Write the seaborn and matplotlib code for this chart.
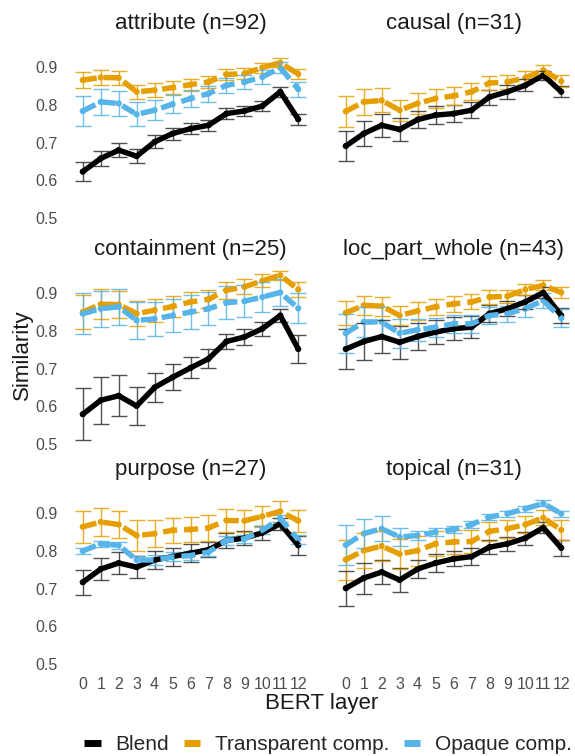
import matplotlib
matplotlib.use("Agg")
import matplotlib.pyplot as plt
from matplotlib.lines import Line2D
import numpy as np
import pandas as pd
import seaborn as sns

# ---------------- data ----------------
layers = list(range(13))
facets = ["attribute (n=92)", "causal (n=31)", "containment (n=25)",
          "loc_part_whole (n=43)", "purpose (n=27)", "topical (n=31)"]
series = ["Blend", "Transparent comp.", "Opaque comp."]

attribute_blend = [0.623, 0.658, 0.680, 0.664, 0.702, 0.724, 0.737, 0.746, 0.777, 0.784, 0.797, 0.835, 0.762]
attribute_blend_err = [0.025, 0.021, 0.019, 0.018, 0.017, 0.016, 0.015, 0.015, 0.014, 0.013, 0.013, 0.013, 0.015]
attribute_transp = [0.866, 0.873, 0.872, 0.835, 0.839, 0.846, 0.854, 0.861, 0.881, 0.883, 0.899, 0.912, 0.882]
attribute_transp_err = [0.022, 0.020, 0.019, 0.019, 0.018, 0.017, 0.016, 0.016, 0.015, 0.014, 0.013, 0.012, 0.014]
attribute_opaque = [0.784, 0.808, 0.804, 0.775, 0.786, 0.802, 0.817, 0.830, 0.852, 0.861, 0.874, 0.899, 0.842]
attribute_opaque_err = [0.041, 0.035, 0.033, 0.032, 0.027, 0.024, 0.022, 0.021, 0.020, 0.019, 0.018, 0.015, 0.020]

causal_blend = [0.691, 0.724, 0.746, 0.735, 0.761, 0.773, 0.777, 0.786, 0.821, 0.835, 0.852, 0.879, 0.835]
causal_blend_err = [0.039, 0.033, 0.031, 0.030, 0.023, 0.023, 0.022, 0.021, 0.020, 0.018, 0.016, 0.012, 0.015]
causal_transp = [0.783, 0.808, 0.812, 0.786, 0.804, 0.817, 0.824, 0.835, 0.858, 0.861, 0.872, 0.892, 0.863]
causal_transp_err = [0.042, 0.035, 0.032, 0.028, 0.027, 0.025, 0.024, 0.022, 0.019, 0.019, 0.017, 0.015, 0.016]

containment_blend = [0.579, 0.616, 0.628, 0.601, 0.650, 0.677, 0.702, 0.726, 0.772, 0.784, 0.806, 0.841, 0.752]
containment_blend_err = [0.069, 0.062, 0.055, 0.050, 0.038, 0.034, 0.028, 0.025, 0.021, 0.021, 0.019, 0.018, 0.038]
containment_transp = [0.850, 0.871, 0.870, 0.846, 0.855, 0.865, 0.877, 0.884, 0.908, 0.917, 0.933, 0.948, 0.910]
containment_transp_err = [0.046, 0.040, 0.036, 0.033, 0.030, 0.028, 0.026, 0.024, 0.022, 0.020, 0.017, 0.012, 0.020]
containment_opaque = [0.846, 0.859, 0.864, 0.828, 0.832, 0.841, 0.850, 0.859, 0.875, 0.879, 0.890, 0.902, 0.860]
containment_opaque_err = [0.054, 0.048, 0.047, 0.050, 0.046, 0.045, 0.045, 0.044, 0.043, 0.043, 0.040, 0.035, 0.040]

lpw_blend = [0.752, 0.772, 0.785, 0.770, 0.785, 0.797, 0.806, 0.810, 0.846, 0.859, 0.877, 0.902, 0.841]
lpw_blend_err = [0.052, 0.048, 0.043, 0.044, 0.035, 0.032, 0.030, 0.029, 0.022, 0.020, 0.018, 0.015, 0.020]
lpw_transp = [0.848, 0.868, 0.866, 0.841, 0.853, 0.864, 0.872, 0.877, 0.890, 0.892, 0.910, 0.921, 0.902]
lpw_transp_err = [0.031, 0.026, 0.025, 0.024, 0.023, 0.022, 0.021, 0.020, 0.018, 0.017, 0.015, 0.013, 0.015]
lpw_opaque = [0.794, 0.824, 0.824, 0.794, 0.803, 0.810, 0.819, 0.819, 0.841, 0.846, 0.859, 0.881, 0.834]
lpw_opaque_err = [0.052, 0.040, 0.040, 0.039, 0.030, 0.025, 0.024, 0.024, 0.022, 0.021, 0.021, 0.020, 0.024]

purpose_blend = [0.717, 0.752, 0.768, 0.757, 0.776, 0.785, 0.794, 0.803, 0.828, 0.834, 0.848, 0.872, 0.815]
purpose_blend_err = [0.033, 0.030, 0.029, 0.030, 0.024, 0.024, 0.024, 0.020, 0.019, 0.018, 0.018, 0.016, 0.025]
purpose_transp = [0.864, 0.877, 0.870, 0.841, 0.846, 0.855, 0.857, 0.861, 0.881, 0.880, 0.892, 0.905, 0.880]
purpose_transp_err = [0.042, 0.036, 0.036, 0.041, 0.036, 0.033, 0.034, 0.035, 0.031, 0.030, 0.028, 0.027, 0.030]
purpose_opaque = [0.800, 0.819, 0.815, 0.776, 0.776, 0.784, 0.788, 0.797, 0.828, 0.832, 0.855, 0.886, 0.830]
purpose_opaque_err = [0.008, 0.008, 0.009, 0.010, 0.013, 0.012, 0.012, 0.011, 0.012, 0.011, 0.010, 0.010, 0.012]

topical_blend = [0.701, 0.728, 0.744, 0.723, 0.752, 0.768, 0.779, 0.785, 0.810, 0.819, 0.834, 0.862, 0.808]
topical_blend_err = [0.046, 0.041, 0.033, 0.031, 0.025, 0.024, 0.020, 0.022, 0.019, 0.018, 0.017, 0.015, 0.022]
topical_transp = [0.777, 0.801, 0.813, 0.792, 0.801, 0.819, 0.824, 0.825, 0.852, 0.859, 0.870, 0.888, 0.856]
topical_transp_err = [0.053, 0.046, 0.041, 0.041, 0.040, 0.033, 0.031, 0.030, 0.025, 0.024, 0.022, 0.020, 0.027]
topical_opaque = [0.816, 0.846, 0.859, 0.837, 0.841, 0.850, 0.857, 0.870, 0.890, 0.899, 0.912, 0.926, 0.899]
topical_opaque_err = [0.054, 0.039, 0.033, 0.025, 0.013, 0.010, 0.010, 0.009, 0.008, 0.008, 0.008, 0.008, 0.008]

facet_data = {
    facets[0]: [(attribute_blend, attribute_blend_err), (attribute_transp, attribute_transp_err), (attribute_opaque, attribute_opaque_err)],
    facets[1]: [(causal_blend, causal_blend_err), (causal_transp, causal_transp_err), None],
    facets[2]: [(containment_blend, containment_blend_err), (containment_transp, containment_transp_err), (containment_opaque, containment_opaque_err)],
    facets[3]: [(lpw_blend, lpw_blend_err), (lpw_transp, lpw_transp_err), (lpw_opaque, lpw_opaque_err)],
    facets[4]: [(purpose_blend, purpose_blend_err), (purpose_transp, purpose_transp_err), (purpose_opaque, purpose_opaque_err)],
    facets[5]: [(topical_blend, topical_blend_err), (topical_transp, topical_transp_err), (topical_opaque, topical_opaque_err)],
}

rows = []
for f in facets:
    for s, d in zip(series, facet_data[f]):
        if d is None:
            continue
        for l, m, e in zip(layers, d[0], d[1]):
            rows.append(dict(facet=f, series=s, layer=l, sim=m, err=e))
df = pd.DataFrame(rows)

# ---------------- style ----------------
sns.set_theme(style="white")
plt.rcParams["font.family"] = ["Liberation Sans", "DejaVu Sans"]

colors = {"Blend": "#000000", "Transparent comp.": "#E69F00", "Opaque comp.": "#56B4E9"}
err_colors = {"Blend": "#333333", "Transparent comp.": "#E69F00", "Opaque comp.": "#56B4E9"}
dashes = {"Blend": "", "Transparent comp.": (2.6, 1.3), "Opaque comp.": (2.6, 1.3)}

W, H = 575, 756
fig = plt.figure(figsize=(W / 100, H / 100), dpi=100)

col_left = [72, 335]
panel_w = 237
row_top = [36, 262, 482]
panel_h = 186.5
ylim = (0.488, 0.983)

for idx, f in enumerate(facets):
    r, c = divmod(idx, 2)
    ax = fig.add_axes([col_left[c] / W, 1 - (row_top[r] + panel_h) / H, panel_w / W, panel_h / H])
    sub = df[df.facet == f]
    for z, s in enumerate(series):
        ss = sub[sub.series == s]
        if ss.empty:
            continue
        ax.errorbar(ss.layer, ss.sim, yerr=ss.err, fmt="none", ecolor=err_colors[s],
                    elinewidth=1.0, capsize=5.5, capthick=1.0, alpha=0.85, zorder=1 + z * 0.1)
    sns.scatterplot(data=sub, x="layer", y="sim", hue="series", hue_order=series,
                    palette=colors, s=20, linewidth=0, legend=False, ax=ax, zorder=2)
    sns.lineplot(data=sub, x="layer", y="sim", hue="series", style="series",
                 hue_order=series, style_order=series, palette=colors, dashes=dashes,
                 linewidth=3.9, legend=False, ax=ax, errorbar=None, sort=True)
    for ln in ax.get_lines():
        ln.set_zorder(3)
        ln.set_dash_capstyle("butt")
        ln.set_solid_capstyle("butt")
    ax.set_xlim(-0.6, 12.6)
    ax.set_ylim(*ylim)
    ax.set_yticks([0.5, 0.6, 0.7, 0.8, 0.9])
    ax.set_xticks(layers)
    ax.set_xlabel("")
    ax.set_ylabel("")
    for sp in ax.spines.values():
        sp.set_visible(False)
    ax.tick_params(length=0, labelsize=11.5, labelcolor="#4D4D4D")
    ax.tick_params(axis="y", pad=10.5)
    ax.tick_params(axis="x", pad=6)
    if c == 1:
        ax.set_yticklabels([])
    if r < 2:
        ax.set_xticklabels([])
    ax.set_title(f, fontsize=16, color="#1A1A1A", pad=5)

fig.text(322 / W, 1 - 703 / H, "BERT layer", ha="center", va="center", fontsize=16, color="#1A1A1A")
fig.text(22 / W, 1 - 355 / H, "Similarity", ha="center", va="center", rotation=90, fontsize=16, color="#1A1A1A")

handles = [Line2D([0], [0], color=colors[s], lw=5, solid_capstyle="butt") for s in series]
fig.legend(handles, series, loc="center", bbox_to_anchor=(328 / W, 1 - 745 / H), ncol=3,
           frameon=False, fontsize=15, handlelength=0.8, handletextpad=0.7, columnspacing=0.7)

fig.savefig("out.png", dpi=100)
